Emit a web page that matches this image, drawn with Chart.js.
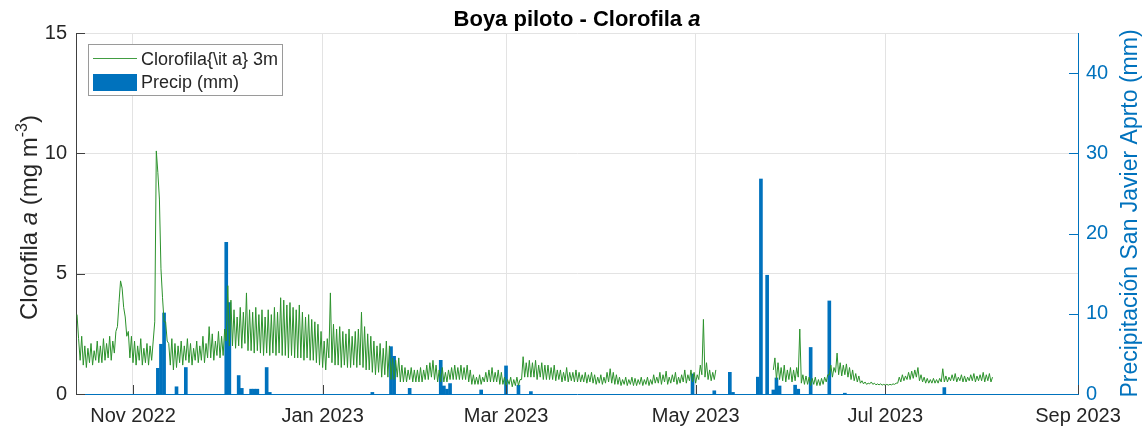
<!DOCTYPE html>
<html>
<head>
<meta charset="utf-8">
<title>Boya piloto - Clorofila a</title>
<script src="https://cdn.jsdelivr.net/npm/chart.js@4.4.1/dist/chart.umd.min.js"></script>
<style>
  html, body { margin: 0; padding: 0; background: #fff; }
  #wrap { width: 1145px; height: 430px; }
</style>
</head>
<body>
<div id="wrap"><canvas id="chart" width="1145" height="430"></canvas></div>
<script>
// ---- Chlorophyll a at 3 m (mg m-3): two readings per day, 00h and 12h, from chlStart ----
const chlStart = '2022-10-14';

const chl00 = [
  3.3, 1.4,
  1.2, 1.1, 1.3, 1.2, 1.4, 1.3, 1.3, 1.4, 1.5, 1.4, 1.7,
  2.8, 4.7, 3.6, 2.4, 1.5,
  1.3, 1.2, 1.4, 1.2, 1.3, 1.2, 1.4,
  3.0, 9.2, 5.2, 3.0, 2.2, 1.2, 1.0, 1.1,
  1.3, 1.2, 1.4, 1.3, 1.2, 1.4, 1.3, 1.4, 1.3, 1.5, 1.5, 1.4, 1.6, 1.5, 1.6,
  2.2, 2.0, 2.0, 1.9, 2.0, 1.9, 2.1, 1.8,
  1.8, 1.7, 1.8, 1.7, 1.6, 1.7, 1.6, 1.7, 1.6, 1.7,
  1.6, 1.6, 1.5, 1.6, 1.5, 1.5, 1.5, 1.4, 1.5, 1.4, 1.4, 1.3,
  1.2, 1.1, 1.0, 1.5,
  1.3, 1.2, 1.2, 1.1, 1.2, 1.1, 1.1, 1.2, 1.1, 1.2,
  1.1, 1.0, 1.0, 0.9, 0.8, 0.9, 0.7, 0.8, 0.7,
  0.6, 0.6, 0.7, 0.5, 0.5, 0.5, 0.6, 0.5, 0.5, 0.5, 0.5, 0.6, 0.6, 0.7, 0.6, 0.5,
  0.5, 0.5, 0.5, 0.6, 0.6, 0.6, 0.6, 0.6, 0.6, 0.5,
  0.4, 0.4, 0.4, 0.4, 0.5, 0.5, 0.5, 0.5, 0.5, 0.4,
  0.4, 0.35, 0.4, 0.3, 0.35, 0.35, 0.6,
  0.7, 0.7, 0.7, 0.7, 0.6, 0.7, 0.6, 0.6, 0.6, 0.6,
  0.55, 0.6, 0.5, 0.55, 0.5, 0.55, 0.5, 0.5, 0.5, 0.5, 0.45, 0.5, 0.45,
  0.4, 0.45, 0.4, 0.45, 0.5, 0.45, 0.4, 0.4, 0.35, 0.4, 0.35, 0.4, 0.35, 0.35, 0.4, 0.35, 0.4, 0.35,
  0.4, 0.45, 0.45, 0.4, 0.5, 0.4, 0.45, 0.5, 0.4, 0.45, 0.5, 0.45, 0.55, 0.5, 0.45,
  0.6, 0.8, 0.7, 0.6, 0.55, 0.6,
  null, null, null, null, null, null, null, null, null, null, null, null, null, null, null, null, null, null,
  1.0, 0.6, 0.6, 0.55, 0.5, 0.6, 0.5, 0.55,
  0.7, 0.45, 0.4, 0.4, 0.35, 0.4, 0.35, 0.35, 0.4, 0.5,
  0.8, 0.7, 0.9, 0.8, 0.75, 0.8, 0.7, 0.6, 0.55, 0.5,
  0.45, 0.42, 0.4, 0.42, 0.4, 0.38, 0.38, 0.37, 0.37, 0.37, 0.38, 0.4,
  0.45, 0.5, 0.55, 0.6, 0.6, 0.65, 0.7,
  0.55, 0.5, 0.45, 0.45, 0.45, 0.45, 0.45, 0.5,
  0.5, 0.5, 0.55, 0.55, 0.5, 0.55, 0.5, 0.5, 0.55, 0.55, 0.5, 0.55, 0.55, 0.5, 0.55, 0.5
];

const chl12 = [
  2.3, 2.4,
  2.0, 1.9, 2.1, 1.8, 2.2, 2.0, 2.3, 2.1, 2.4, 2.2, 2.6,
  3.8, 4.4, 3.2, 2.6, 2.4,
  2.2, 2.0, 2.3, 1.9, 2.1, 2.0, 2.2,
  10.1, 8.1, 4.0, 3.0, 2.1, 2.3, 2.1, 2.0,
  2.2, 2.0, 2.3, 2.1, 1.9, 2.2, 2.0, 2.4, 2.1, 2.8, 2.5, 2.2, 2.6, 2.4, 2.7,
  4.5, 3.9, 3.5, 3.2, 3.6, 3.4, 4.2, 3.5,
  3.4, 3.6, 3.3, 3.5, 3.2, 3.5, 3.3, 3.6, 3.4, 4.0,
  3.9, 3.7, 3.8, 3.6, 3.5, 3.7, 3.4, 3.2, 3.3, 3.1, 3.0, 2.9,
  2.6, 2.2, 2.3, 4.2,
  2.9, 2.7, 2.8, 2.6, 2.5, 2.7, 2.4, 2.6, 2.7, 3.4,
  2.8, 2.5, 2.4, 2.2, 2.0, 2.1, 1.9, 2.2, 2.0,
  1.5, 1.4, 1.5, 1.2, 1.1, 1.0, 1.1, 1.0, 1.0, 1.1, 1.0, 1.2, 1.3, 1.4, 1.2, 1.0,
  1.1, 0.9, 1.0, 1.1, 1.2, 1.1, 1.2, 1.1, 1.2, 1.0,
  0.8, 0.7, 0.8, 0.7, 0.9, 1.0, 1.1, 0.9, 1.0, 0.9,
  0.7, 0.6, 0.7, 0.6, 0.7, 0.6, 1.55,
  1.3, 1.4, 1.3, 1.4, 1.2, 1.3, 1.2, 1.2, 1.1, 1.2,
  1.0, 1.0, 0.9, 1.1, 0.9, 0.9, 1.0, 0.9, 0.8, 0.9, 0.8, 0.9, 0.8,
  0.7, 0.8, 0.7, 0.9, 1.05, 0.9, 0.8, 0.7, 0.6, 0.7, 0.6, 0.7, 0.65, 0.6, 0.7, 0.6, 0.7, 0.6,
  0.8, 0.7, 0.9, 0.8, 0.95, 0.7, 0.8, 0.9, 0.7, 0.8, 1.0, 0.8, 1.0, 0.9, 0.8,
  1.2, 3.1, 1.3, 1.0, 0.9, 1.0,
  null, null, null, null, null, null, null, null, null, null, null, null, null, null, null, null, null, null,
  1.5, 1.3, 1.1, 1.2, 1.0, 1.1, 1.0, 1.1,
  2.7, 0.8, 0.75, 0.7, 0.65, 0.7, 0.6, 0.65, 0.7, 0.8,
  1.2, 1.1, 1.7, 1.3, 1.2, 1.25, 1.1, 1.0, 0.85, 0.75,
  0.55, 0.5, 0.45, 0.5, 0.45, 0.42, 0.42, 0.4, 0.4, 0.4, 0.42, 0.45,
  0.7, 0.8, 0.75, 0.9, 0.95, 1.0, 1.1,
  0.8, 0.7, 0.65, 0.6, 0.65, 0.6, 0.65, 1.05,
  0.75, 0.7, 0.8, 0.85, 0.7, 0.8, 0.75, 0.7, 0.8, 0.85, 0.75, 0.8, 0.9, 0.8, 0.85, 0.7
];

// ---- Daily precipitation, San Javier airport (mm) ----
const precipDates = [
  '2022-11-09', '2022-11-10', '2022-11-11', '2022-11-15', '2022-11-18',
  '2022-12-01', '2022-12-02', '2022-12-05', '2022-12-06', '2022-12-09',
  '2022-12-10', '2022-12-11', '2022-12-14', '2022-12-15',
  '2023-01-17', '2023-01-23', '2023-01-24', '2023-01-29',
  '2023-02-08', '2023-02-09', '2023-02-10', '2023-02-11', '2023-02-21',
  '2023-03-01', '2023-03-05', '2023-03-09',
  '2023-04-30', '2023-05-07', '2023-05-12', '2023-05-13', '2023-05-21',
  '2023-05-22', '2023-05-24', '2023-05-26', '2023-05-27', '2023-05-28',
  '2023-06-02', '2023-06-03', '2023-06-07', '2023-06-13', '2023-06-18',
  '2023-07-20'
];
const precipMm = [
  3.2, 6.2, 10.1, 0.9, 3.3,
  18.9, 11.4, 2.3, 0.7, 0.6,
  0.6, 0.6, 3.3, 0.2,
  0.2, 5.9, 4.7, 0.7,
  4.2, 1.0, 0.6, 1.3, 0.5,
  3.5, 1.1, 0.3,
  2.5, 0.4, 2.7, 0.2, 2.1,
  26.8, 14.8, 0.5, 2.0, 1.0,
  1.1, 0.6, 5.8, 11.6, 0.1,
  0.8
];

// ---- Axes ----
const xFrom = '2022-10-13T16:00:00Z';
const xTo = '2023-09-01';
const tickDates = ['2022-11-01', '2023-01-01', '2023-03-01', '2023-05-01', '2023-07-01', '2023-09-01'];
const tickLabels = ['Nov 2022', 'Jan 2023', 'Mar 2023', 'May 2023', 'Jul 2023', 'Sep 2023'];
const chlTicks = [0, 5, 10, 15];
const precipTicks = [0, 10, 20, 30, 40];

// ---- Helpers ----
const DAY_MS = 86400000;
const REF = Date.UTC(2022, 10, 1);
const toDay = s => (Date.parse(s) - REF) / DAY_MS;

const FONT = "'Liberation Sans', Arial, Helvetica, sans-serif";
const INK = '#262626';
const BLUE = '#0072BD';
const GREEN = '#2c922c';

const d0 = toDay(chlStart);
const chlPoints = [];
chl00.forEach((v, i) => {
  chlPoints.push({ x: d0 + i, y: v });
  chlPoints.push({ x: d0 + i + 0.5, y: chl12[i] });
});
const precipPoints = precipDates.map((d, i) => ({ x: toDay(d), y: precipMm[i] }));

const xMin = toDay(xFrom), xMax = toDay(xTo);

function drawRuns(ctx, runs, x, y, align) {
  let total = 0;
  runs.forEach(r => { ctx.font = r.f; r.w = ctx.measureText(r.t).width; total += r.w; });
  let cx = align === 'center' ? x - total / 2 : x;
  runs.forEach(r => { ctx.font = r.f; ctx.fillText(r.t, cx, y + (r.dy || 0)); cx += r.w; });
}

function seg(ctx, x1, y1, x2, y2) {
  ctx.beginPath(); ctx.moveTo(x1, y1); ctx.lineTo(x2, y2); ctx.stroke();
}

// Titles, inward tick marks and the legend box
const decor = {
  id: 'decor',
  afterDraw(chart) {
    const { ctx, chartArea: a, scales } = chart;
    ctx.save();
    ctx.lineWidth = 1;

    ctx.strokeStyle = '#404040';
    chlTicks.forEach(v => {
      const y = Math.round(scales.y.getPixelForValue(v)) + 0.5;
      seg(ctx, a.left, y, a.left + 9, y);
    });
    tickDates.forEach(d => {
      const x = Math.round(scales.x.getPixelForValue(toDay(d))) + 0.5;
      seg(ctx, x, a.bottom, x, a.bottom - 9);
    });
    ctx.strokeStyle = BLUE;
    precipTicks.forEach(v => {
      const y = Math.round(scales.y1.getPixelForValue(v)) + 0.5;
      seg(ctx, a.right - 9, y, a.right, y);
    });

    // chart title
    ctx.textBaseline = 'alphabetic';
    ctx.textAlign = 'left';
    ctx.fillStyle = '#000';
    drawRuns(ctx, [
      { t: 'Boya piloto - Clorofila ', f: `bold 22px ${FONT}` },
      { t: 'a', f: `italic bold 22px ${FONT}` }
    ], (a.left + a.right) / 2, 26, 'center');

    // left axis title
    ctx.save();
    ctx.translate(37, (a.top + a.bottom) / 2 + 4);
    ctx.rotate(-Math.PI / 2);
    ctx.fillStyle = INK;
    drawRuns(ctx, [
      { t: 'Clorofila ', f: `24px ${FONT}` },
      { t: 'a', f: `italic 24px ${FONT}` },
      { t: ' (mg m', f: `24px ${FONT}` },
      { t: '-3', f: `16px ${FONT}`, dy: -10 },
      { t: ')', f: `24px ${FONT}` }
    ], 0, 0, 'center');
    ctx.restore();

    // right axis title
    ctx.save();
    ctx.translate(1137, (a.top + a.bottom) / 2);
    ctx.rotate(-Math.PI / 2);
    ctx.fillStyle = BLUE;
    drawRuns(ctx, [{ t: 'Precipitación San Javier Aprto (mm)', f: `23px ${FONT}` }], 0, 0, 'center');
    ctx.restore();

    // legend
    const lx = a.left + 12, ly = a.top + 11;
    ctx.fillStyle = '#fff';
    ctx.fillRect(lx, ly, 195, 52);
    ctx.strokeStyle = '#9a9a9a';
    ctx.strokeRect(lx + 0.5, ly + 0.5, 194, 51);
    ctx.strokeStyle = GREEN;
    ctx.lineWidth = 0.9;
    seg(ctx, lx + 5, ly + 14.5, lx + 49, ly + 14.5);
    ctx.fillStyle = BLUE;
    ctx.fillRect(lx + 5, ly + 30, 44, 17);
    ctx.fillStyle = INK;
    ctx.textBaseline = 'middle';
    ctx.font = `18px ${FONT}`;
    ctx.fillText(chart.data.datasets[0].label, lx + 53, ly + 16);
    ctx.fillText(chart.data.datasets[1].label, lx + 53, ly + 39);
    ctx.restore();
  }
};

new Chart(document.getElementById('chart'), {
  data: {
    datasets: [
      {
        type: 'line',
        label: 'Clorofila{\\it a} 3m',
        data: chlPoints,
        yAxisID: 'y',
        borderColor: GREEN,
        borderWidth: 1,
        pointRadius: 0,
        tension: 0,
        spanGaps: false,
        order: 1
      },
      {
        type: 'bar',
        label: 'Precip (mm)',
        data: precipPoints,
        yAxisID: 'y1',
        backgroundColor: BLUE,
        borderWidth: 0,
        barThickness: 3,
        order: 2
      }
    ]
  },
  options: {
    responsive: false,
    animation: false,
    events: [],
    layout: { padding: { top: 33, left: 0, right: 0, bottom: 0 } },
    plugins: { legend: { display: false }, tooltip: { enabled: false }, title: { display: false } },
    scales: {
      x: {
        type: 'linear',
        offset: false,
        min: xMin,
        max: xMax,
        afterBuildTicks: s => { s.ticks = tickDates.map(d => ({ value: toDay(d) })); },
        afterFit: s => { s.height = 36; },
        ticks: {
          callback: (v, i) => tickLabels[i],
          font: { family: FONT, size: 20 },
          color: INK,
          padding: 10,
          maxRotation: 0,
          autoSkip: false
        },
        grid: {
          offset: false,
          color: c => (c.tick && c.tick.value >= xMax) ? 'rgba(0,0,0,0)' : '#e3e3e3',
          drawTicks: false
        },
        border: { color: BLUE, width: 1 }
      },
      y: {
        position: 'left',
        min: 0,
        max: 15,
        afterBuildTicks: s => { s.ticks = chlTicks.map(v => ({ value: v })); },
        afterFit: s => { s.width = 76; },
        ticks: { font: { family: FONT, size: 20 }, color: INK, padding: 9 },
        grid: {
          color: c => (c.tick && c.tick.value === 0) ? 'rgba(0,0,0,0)' : '#e3e3e3',
          drawTicks: false
        },
        border: { color: '#404040', width: 1 }
      },
      y1: {
        position: 'right',
        min: 0,
        max: 45,
        afterBuildTicks: s => { s.ticks = precipTicks.map(v => ({ value: v })); },
        afterFit: s => { s.width = 67; },
        ticks: { font: { family: FONT, size: 20 }, color: BLUE, padding: 8 },
        grid: { display: false, drawTicks: false },
        border: { color: BLUE, width: 1 }
      }
    }
  },
  plugins: [decor]
});
</script>
</body>
</html>
